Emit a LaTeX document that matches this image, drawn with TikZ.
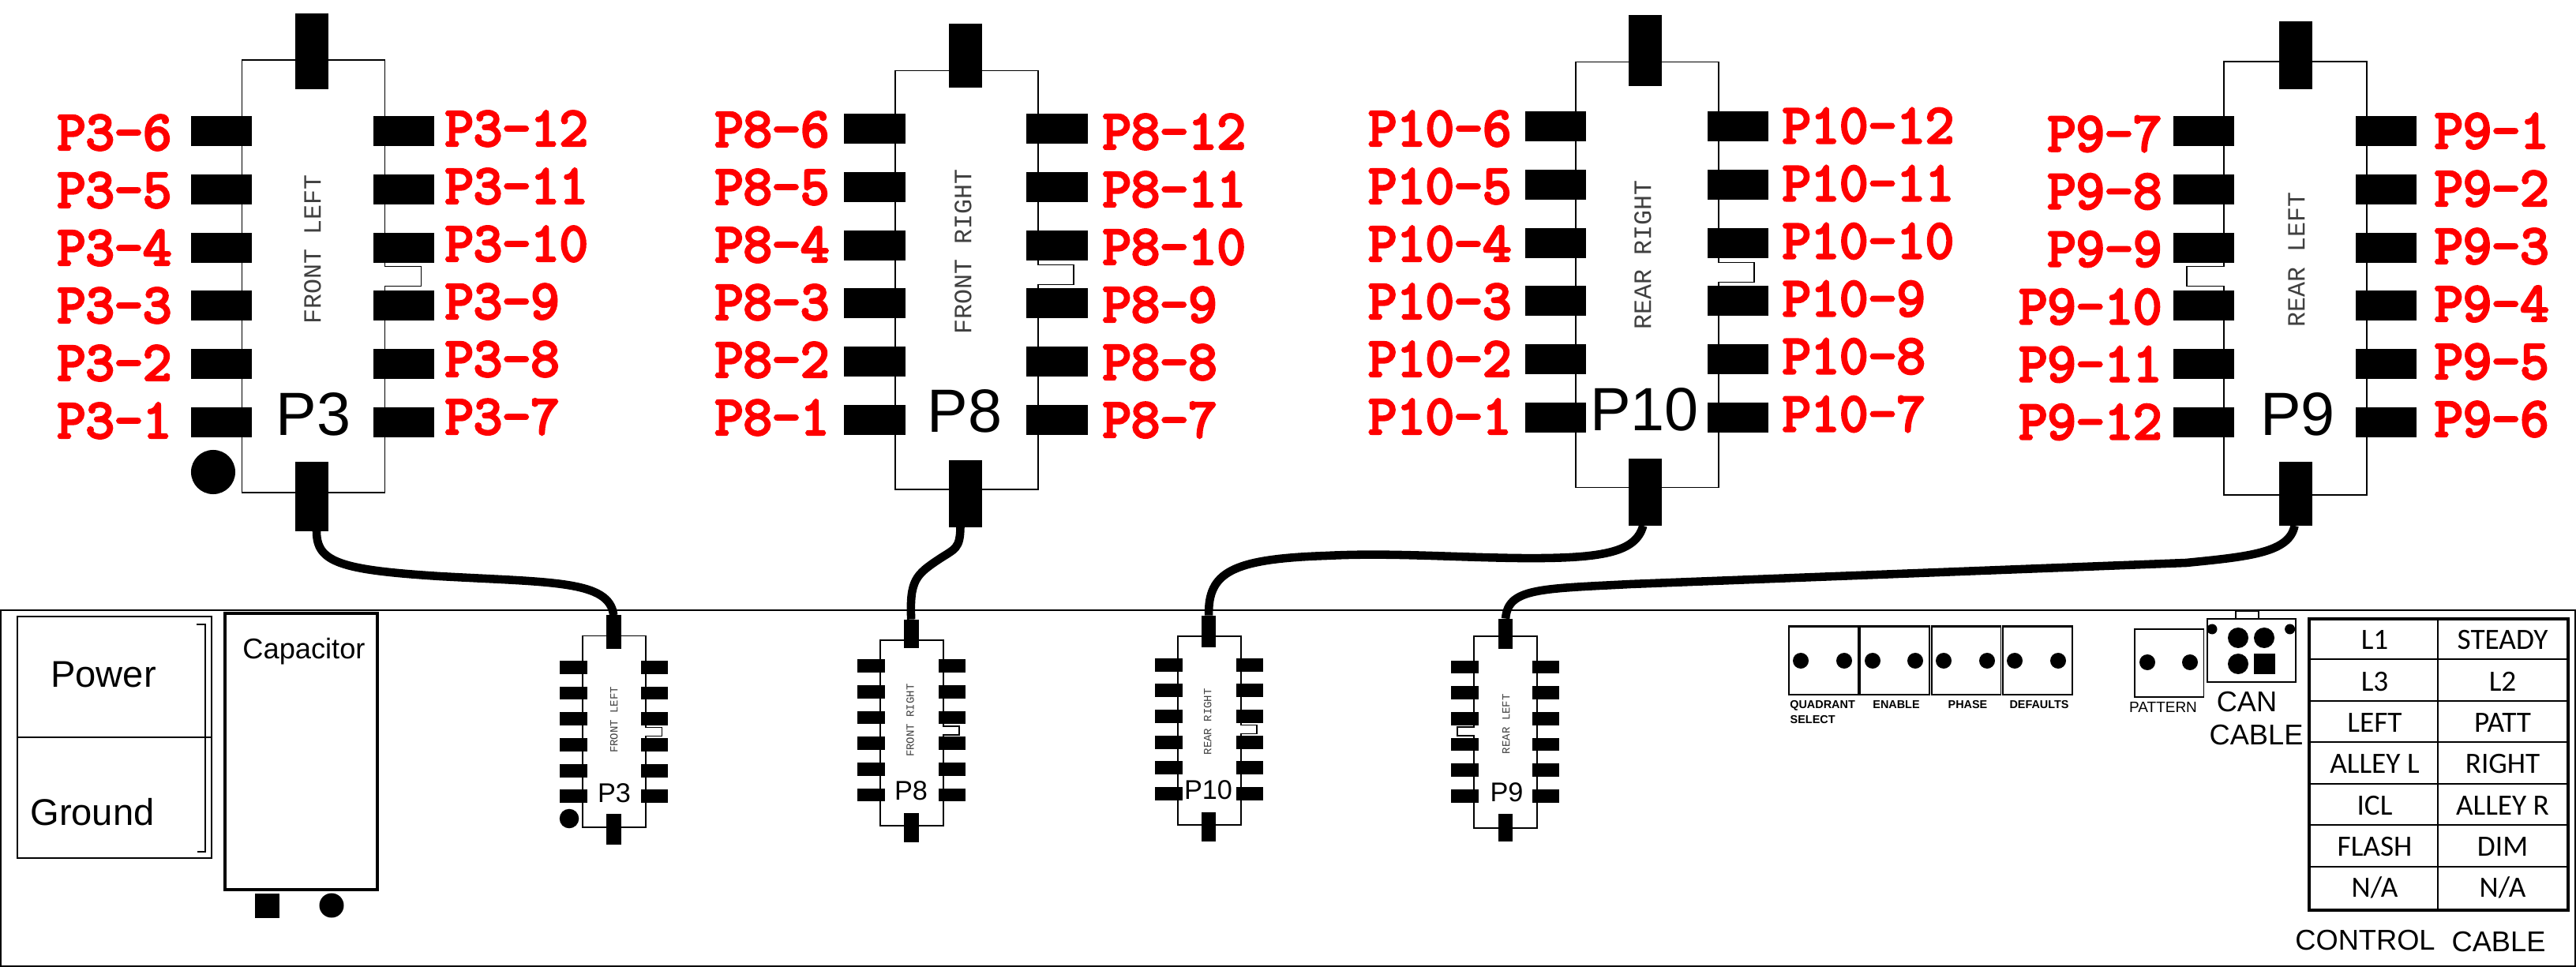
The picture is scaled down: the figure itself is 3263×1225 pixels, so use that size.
\documentclass[tikz,border=0pt]{standalone}
\usepackage{fontspec}
\setmainfont{Liberation Sans}
\newfontfamily\chipfont{Liberation Mono}
\newfontfamily\gridfont{Carlito}
\newfontfamily\redfont[FakeBold=4.5]{Latin Modern Mono}
\usepackage{tikz}
\tikzset{
	padbox/.style={fill=black,inner sep=0pt,outer sep=0pt},
	sidepad/.style={padbox,minimum width=0.77cm,minimum height=0.38cm},
	endpad/.style={padbox,minimum width=0.42cm},
	bodyline/.style={line width=0.45pt},
	cable/.style={line width=3pt},
	dotmark/.style={circle,fill=black,inner sep=0pt,outer sep=0pt},
	chiptag/.style={inner sep=0pt,font=\chipfont\fontsize{9}{9}\selectfont,text=black!75,rotate=90},
	chipname/.style={inner sep=0pt,font=\fontsize{22}{22}\selectfont},
	redtag/.style={inner sep=0pt,text=red,font=\redfont\fontsize{20}{20}\selectfont},
	switchbox/.style={draw,bodyline,minimum width=0.875cm,minimum height=0.86cm,inner sep=0pt},
	switchtag/.style={inner sep=0pt,font=\bfseries\fontsize{4.1}{4.1}\selectfont},
	plaintag/.style={inner sep=0pt,font=\fontsize{10.3}{10.3}\selectfont},
	gridtag/.style={inner sep=0pt,font=\gridfont\fontsize{10.6}{10.6}\selectfont}
}
\begin{document}
\begin{tikzpicture}[x=0.01cm,y=-0.01cm]
	\useasboundingbox (0,0) rectangle (3263,1225);
	\draw [bodyline] (1,773) rectangle (3262,1224);
	\foreach \n/\xa/\ya/\yb/\yp/\xp/\ta/\tb/\ba/\bb/\xt/\yt/\lab/\xn/\yn/\nl/\nr/\ny/\xs/\ys in {
		P3/306.5/76/624/166/395/17/113/585/673/396/316/FRONT LEFT/397/525/0/46/350/738/805.5,
		P8/1134/89.5/620/163/1222.5/30/111/583/668/1220/319/FRONT RIGHT/1222/521/0/45/348/1115/811,
		P10/1996/78.5/617.5/160/2084.3/19/109/581/666/2081/323/REAR RIGHT/2083/519/0/45/345/1492/806,
		P9/2817/78/627/166/2907.5/27.5/113/585/666/2909/329/REAR LEFT/2910.6/525/47/0/350/1867/806}
	{
		\foreach \s/\xo/\yo/\fac in {b/\xa/\ya/1,s/\xs/\ys/0.443}
		{
			\begin{scope}[shift={(\xo,\yo)},scale=\fac,shift={(-\xa,-\ya)},transform shape]
				\draw [bodyline] (\xa,\ya) -- ({\xa+181},\ya) -- ({\xa+181},{\ny-12.5}) -- ({\xa+181+\nr},{\ny-12.5}) -- ({\xa+181+\nr},{\ny+12.5}) -- ({\xa+181},{\ny+12.5}) -- ({\xa+181},\yb) -- (\xa,\yb) -- (\xa,{\ny+12.5}) -- ({\xa-\nl},{\ny+12.5}) -- ({\xa-\nl},{\ny-12.5}) -- (\xa,{\ny-12.5}) -- cycle;
				\foreach \i in {1,...,6}
				{
					\node [sidepad] (\s\n-L\i) at ({\xa-26},{\yp+(\i-1)*73.8}) {};
					\node [sidepad] (\s\n-R\i) at ({\xa+205},{\yp+(\i-1)*73.8}) {};
				}
				\node [endpad,minimum height={(\tb-\ta)*0.01cm}] (\s\n top) at (\xp,{(\ta+\tb)/2}) {};
				\node [endpad,minimum height={(\bb-\ba)*0.01cm}] (\s\n bot) at (\xp,{(\ba+\bb)/2}) {};
				\node [chiptag] (\s\n tag) at (\xt,\yt) {\lab};
				\node [chipname] (\s\n name) at (\xn,\yn) {\n};
			\end{scope}
		}
	}
	\node [dotmark,minimum size=0.56cm] (bdot) at (270,598) {};
	\node [dotmark,minimum size=0.245cm] (sdot) at (721,1037) {};
	\foreach \n/\xl/\yl/\xr/\yr/\numl/\numr in {
		P3/218/168/563/163/{6,5,4,3,2,1}/{12,11,10,9,8,7},
		P8/1051/164/1396/167/{6,5,4,3,2,1}/{12,11,10,9,8,7},
		P10/1915/163/2257/159.5/{6,5,4,3,2,1}/{12,11,10,9,8,7},
		P9/2739/169.6/3083/166/{7,8,9,10,11,12}/{1,2,3,4,5,6}}
	{
		\foreach \m [count=\r from 0] in \numl
			\node [redtag,anchor=east] (tag\n-\m) at (\xl,{\yl+\r*73}) {\n-\m};
		\foreach \m [count=\r from 0] in \numr
			\node [redtag,anchor=west] (tag\n-\m) at (\xr,{\yr+\r*73}) {\n-\m};
	}
	\draw [cable] ([xshift=0.06cm]bP3bot.south) .. controls (401,712) and (430,722) .. (557,730) .. controls (700,738) and (772,735) .. (sP3top.north);
	\draw [cable] ([xshift=-0.06cm]bP8bot.south) .. controls (1216,695) and (1210,695) .. (1190,708) .. controls (1160,728) and (1152,735) .. (sP8top.north);
	\draw [cable] ([xshift=-0.03cm]bP10bot.south) .. controls (2072,700) and (2030,708) .. (1924,707) .. controls (1840,706) and (1760,700) .. (1680,704) .. controls (1560,708) and (1530,725) .. (sP10top.north);
	\draw [cable] ([xshift=-0.01cm]bP9bot.south) .. controls (2900,700) and (2850,705) .. (2769,713) -- (2065,740) .. controls (1950,746) and (1910,745) .. (sP9top.north);
	\draw [line width=0.85pt] (22,781) rectangle (268,1087);
	\draw [line width=0.6pt] (22,934) -- (268,934);
	\draw [line width=0.7pt] (249,791) -- (260,791) -- (260,1079) -- (250,1079);
	\node [inner sep=0pt,font=\fontsize{13.4}{13.4}\selectfont] (powertag) at (131,855) {Power};
	\node [inner sep=0pt,font=\fontsize{13.4}{13.4}\selectfont] (groundtag) at (117,1029) {Ground};
	\draw [line width=1.2pt] (285,777) rectangle (478,1127);
	\node [plaintag] (captag) at (385,825) {Capacitor};
	\node [padbox,minimum width=0.31cm,minimum height=0.31cm] (capsquare) at (338.5,1147.5) {};
	\node [dotmark,minimum size=0.31cm] (capdot) at (420,1147) {};
	\foreach \n/\x/\t/\xa/\xb in {quadrant/2310/{}/2281/2336,enable/2400/ENABLE/2372/2426,phase/2490.5/PHASE/2462/2517,defaults/2581/DEFAULTS/2552/2607}
	{
		\node [switchbox] (\n) at (\x,837) {};
		\draw [line width=0.8pt] (\n.north west) -- (\n.north east);
		\node [dotmark,minimum size=0.2cm] (\n a) at (\xa,837) {};
		\node [dotmark,minimum size=0.2cm] (\n b) at (\xb,837) {};
		\node [switchtag] (\n tag) at ({\x+2},893) {\t};
	}
	\node [switchtag,anchor=west] (quadranttag) at (2266.6,894) {QUADRANT};
	\node [switchtag,anchor=west] (selecttag) at (2267,912) {SELECT};
	\node [switchbox] (pattern) at (2747.5,840) {};
	\node [dotmark,minimum size=0.2cm] (patterna) at (2720,839) {};
	\node [dotmark,minimum size=0.2cm] (patternb) at (2774,839) {};
	\node [inner sep=0pt,font=\fontsize{5.4}{5.4}\selectfont] (patterntag) at (2740,896) {PATTERN};
	\draw [bodyline] (2796,784) rectangle (2908,864);
	\draw [bodyline] (2832,784) -- (2832,774) -- (2861,774) -- (2861,784);
	\node [dotmark,minimum size=0.13cm] (canp) at (2802,797) {};
	\node [dotmark,minimum size=0.13cm] (canq) at (2900.6,797) {};
	\node [dotmark,minimum size=0.26cm] (cana) at (2835,808) {};
	\node [dotmark,minimum size=0.26cm] (canb) at (2868,808) {};
	\node [dotmark,minimum size=0.26cm] (canc) at (2835,841) {};
	\node [padbox,minimum width=0.27cm,minimum height=0.26cm] (cansquare) at (2868.5,841) {};
	\node [plaintag] (cantag) at (2846,889) {CAN};
	\node [plaintag] (cabletag) at (2858,931) {CABLE};
	\draw [line width=1.3pt] (2925,784) rectangle (3253,1153);
	\foreach \y in {835,888,940,993,1045,1098}
		\draw [bodyline] (2925,\y) -- (3253,\y);
	\draw [bodyline] (3088,784) -- (3088,1153);
	\foreach \a/\b [count=\r from 0] in {L1/STEADY,L3/L2,LEFT/PATT,ALLEY L/RIGHT,ICL/ALLEY R,FLASH/DIM,{N/A}/{N/A}}
	{
		\node [gridtag] (grida\r) at (3008,{811+\r*52.3}) {\a};
		\node [gridtag] (gridb\r) at (3170,{811+\r*52.3}) {\b};
	}
	\node [plaintag] (controltag) at (2996,1191) {CONTROL};
	\node [plaintag] (controlcable) at (3165,1193) {CABLE};
\end{tikzpicture}
\end{document}
